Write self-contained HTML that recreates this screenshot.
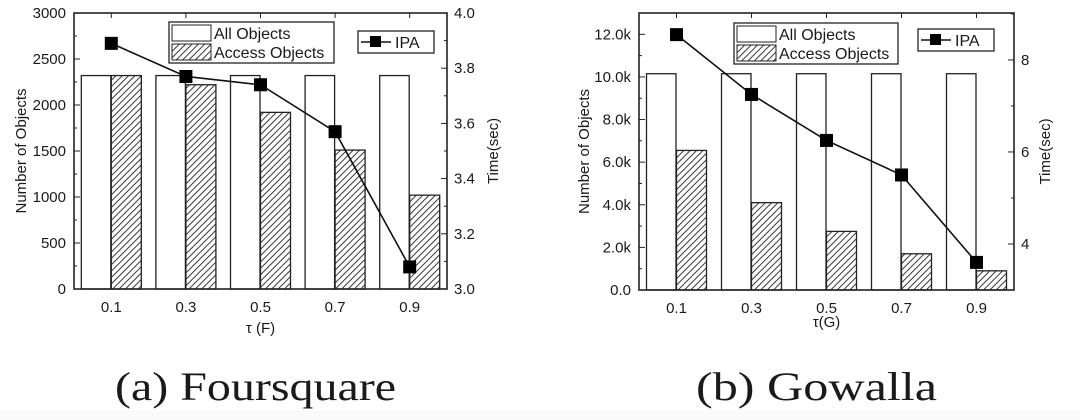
<!DOCTYPE html>
<html><head><meta charset="utf-8"><style>
html,body{margin:0;padding:0;background:#fafafa;}
svg{display:block;font-family:"Liberation Sans",Arial,sans-serif;}
svg text{fill:#1a1a1a;}
</style></head><body>
<svg id="fig" width="1080" height="420" viewBox="0 0 1080 420">
<defs>
<pattern id="hatch" patternUnits="userSpaceOnUse" width="4.5" height="4.5" patternTransform="rotate(45)">
<rect width="4.5" height="4.5" fill="#fff"/><line x1="0" y1="0" x2="0" y2="4.5" stroke="#222" stroke-width="1.8"/>
</pattern>
</defs>
<rect x="0" y="0" width="1080" height="410" fill="#fff"/>
<text x="115" y="400" font-family="Liberation Serif,serif" font-size="40" textLength="281" lengthAdjust="spacingAndGlyphs">(a) Foursquare</text>
<text x="696" y="400" font-family="Liberation Serif,serif" font-size="40" textLength="241" lengthAdjust="spacingAndGlyphs">(b) Gowalla</text>
</svg>
<script>
const categories = ["0.1","0.3","0.5","0.7","0.9"];
const fsAll = [2320,2320,2320,2320,2320];
const fsAccess = [2320,2220,1920,1510,1020];
const fsIPA = [3.89,3.77,3.74,3.57,3.08];
const fsLeftTicks = [0,500,1000,1500,2000,2500,3000];
const fsRightTicks = [3.0,3.2,3.4,3.6,3.8,4.0];
const gwAll = [10150,10150,10150,10150,10150];
const gwAccess = [6550,4100,2750,1700,900];
const gwIPA = [8.55,7.25,6.25,5.5,3.6];
const gwLeftTicks = [0,2000,4000,6000,8000,10000,12000];
const gwLeftLabels = ["0.0","2.0k","4.0k","6.0k","8.0k","10.0k","12.0k"];
const gwRightTicks = [4,6,8];

const NS="http://www.w3.org/2000/svg";
const svg=document.getElementById('fig');
function el(tag,attrs,parent){const e=document.createElementNS(NS,tag);for(const k in attrs)e.setAttribute(k,attrs[k]);(parent||svg).appendChild(e);return e;}

function chart(o){
  const g=el('g',{});
  
  
  const x0=o.x0,x1=o.x1,y0=o.y0,y1=o.y1;
  const yL=v=>y1-(v-o.lmin)/(o.lmax-o.lmin)*(y1-y0);
  const yR=v=>y1-(v-o.rmin)/(o.rmax-o.rmin)*(y1-y0);
  const band=(x1-x0)/categories.length;
  const cx=i=>x0+(i+0.5)*band;
  categories.forEach((c,i)=>{
    const b1=el('rect',{x:cx(i)-30,y:yL(o.all[i]),width:29.5,height:y1-yL(o.all[i]),fill:'#fff',stroke:'#222','stroke-width':1.3},g);
    
    
    const b2=el('rect',{x:cx(i),y:yL(o.acc[i]),width:30,height:y1-yL(o.acc[i]),fill:'url(#hatch)',stroke:'#222','stroke-width':1.3},g);
    
    
    const t=el('text',{x:cx(i),y:y1+23,'font-size':15,'text-anchor':'middle'},g);t.textContent=c;
    
    
    el('line',{x1:cx(i),x2:cx(i),y1:y1,y2:y1-5,stroke:'#222'},g);
    el('line',{x1:cx(i),x2:cx(i),y1:y0,y2:y0+5,stroke:'#222'},g);
  });
  const pts=o.ipa.map((v,i)=>cx(i)+','+yR(v)).join(' ');
  const pl=el('polyline',{points:pts,fill:'none',stroke:'#111','stroke-width':1.6},g);
  
  
  o.ipa.forEach((v,i)=>{
    const m=el('rect',{x:cx(i)-6.5,y:yR(v)-6.5,width:13,height:13,fill:'#000'},g);
    
    
  });
  el('rect',{x:x0,y:y0,width:x1-x0,height:y1-y0,fill:'none',stroke:'#222','stroke-width':1.6},g);
  o.lt.forEach((v,i)=>{
    const y=yL(v);
    el('line',{x1:x0,x2:x0+6,y1:y,y2:y,stroke:'#222'},g);
    const t=el('text',{x:x0-8,y:y+5,'font-size':15,'text-anchor':'end'},g);
    t.textContent=o.ll?o.ll[i]:String(v);
    
    
  });
  o.lt.slice(0,-1).forEach((v,i)=>{const y=(yL(v)+yL(o.lt[i+1]))/2;el('line',{x1:x0,x2:x0+3,y1:y,y2:y,stroke:'#222'},g);});
  o.rt.forEach(v=>{
    const y=yR(v);
    el('line',{x1:x1,x2:x1-6,y1:y,y2:y,stroke:'#222'},g);
    const t=el('text',{x:x1+7,y:y+5,'font-size':15},g);
    t.textContent=o.rfmt(v);
    
    
  });
  o.rminor.forEach(v=>{const y=yR(v);el('line',{x1:x1,x2:x1-3,y1:y,y2:y,stroke:'#222'},g);});
  const lt=el('text',{x:0,y:0,'font-size':15,'text-anchor':'middle',transform:`translate(${o.ltx},${(y0+y1)/2}) rotate(-90)`},g);
  lt.textContent='Number of Objects';
  
  
  const rt=el('text',{x:0,y:0,'font-size':15,'text-anchor':'middle',transform:`translate(${o.rtx},${(y0+y1)/2}) rotate(-90)`},g);
  rt.textContent='Time(sec)';
  
  
  const xt=el('text',{x:(x0+x1)/2,y:o.xty,'font-size':15,'text-anchor':'middle'},g);
  xt.textContent=o.xtitle;
  
  
  const L=o.leg1;
  const lg=el('g',{},g);
  
  
  el('rect',{x:L[0],y:L[1],width:L[2],height:41,fill:'#fff',stroke:'#222','stroke-width':1.3},lg);
  el('rect',{x:L[0]+3,y:L[1]+3,width:39,height:16,fill:'#fff',stroke:'#222'},lg);
  el('rect',{x:L[0]+3,y:L[1]+22,width:39,height:16,fill:'url(#hatch)',stroke:'#222'},lg);
  let t=el('text',{x:L[0]+45,y:L[1]+17,'font-size':16},lg);t.textContent='All Objects';
  t=el('text',{x:L[0]+45,y:L[1]+36,'font-size':16},lg);t.textContent='Access Objects';
  const M=o.leg2;
  const lg2=el('g',{},g);
  
  
  el('rect',{x:M[0],y:M[1],width:76,height:22,fill:'#fff',stroke:'#222','stroke-width':1.3},lg2);
  el('line',{x1:M[0]+3,x2:M[0]+33,y1:M[1]+11,y2:M[1]+11,stroke:'#111','stroke-width':1.6},lg2);
  el('rect',{x:M[0]+12,y:M[1]+5,width:11,height:11,fill:'#000'},lg2);
  t=el('text',{x:M[0]+37,y:M[1]+17,'font-size':16},lg2);t.textContent='IPA';
}

chart({name:'foursquare-chart',x0:74,x1:447,y0:13,y1:289,lmin:0,lmax:3000,rmin:3.0,rmax:4.0,
  all:fsAll,acc:fsAccess,ipa:fsIPA,lt:fsLeftTicks,rt:fsRightTicks,rfmt:v=>v.toFixed(1),
  rminor:[3.1,3.3,3.5,3.7,3.9],ltx:26,rtx:498,xtitle:'τ (F)',xty:333,leg1:[169,22,165],leg2:[358,31]});
chart({name:'gowalla-chart',x0:639,x1:1014,y0:13,y1:290,lmin:0,lmax:13000,rmin:3,rmax:9.02,
  all:gwAll,acc:gwAccess,ipa:gwIPA,lt:gwLeftTicks,ll:gwLeftLabels,rt:gwRightTicks,rfmt:v=>String(v),
  rminor:[5,7,9],ltx:589,rtx:1050,xtitle:'τ(G)',xty:327,leg1:[734,23,164],leg2:[918,29]});
</script>
</body></html>
